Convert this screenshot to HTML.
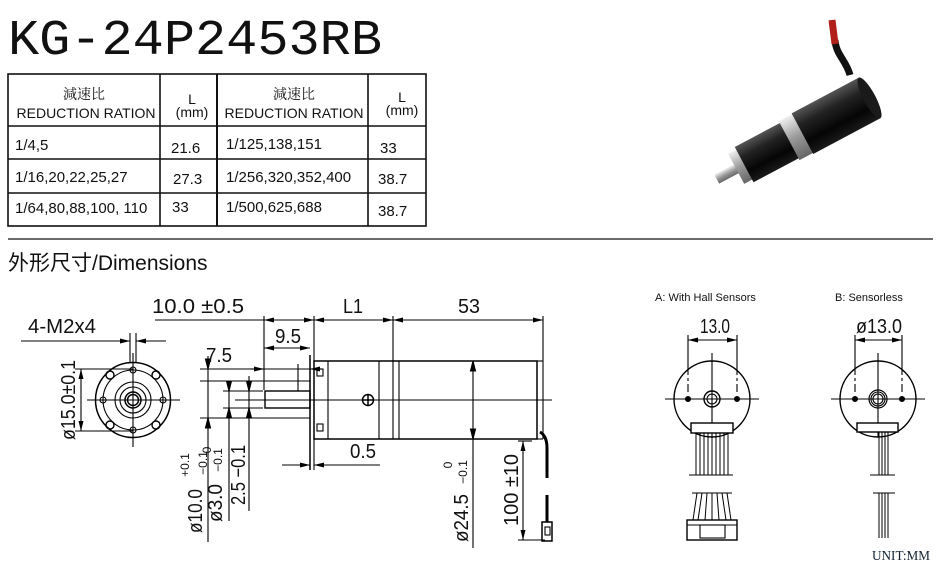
<!DOCTYPE html>
<html><head><meta charset="utf-8"><style>
html,body{margin:0;padding:0;background:#fff;}
svg{display:block;}
.t{font-family:"Liberation Sans","Noto Sans CJK SC",sans-serif;}
.d{font-family:"Liberation Sans",sans-serif;font-size:20px;fill:#111;}
.s{font-family:"Liberation Sans",sans-serif;font-size:12px;fill:#111;}
</style></head><body>
<svg width="945" height="565" viewBox="0 0 945 565" xmlns="http://www.w3.org/2000/svg">
<defs>
<marker id="ar" viewBox="0 0 10 5" refX="10" refY="2.5" markerWidth="11" markerHeight="5" markerUnits="userSpaceOnUse" orient="auto-start-reverse"><path d="M0,0L10,2.5L0,5z" fill="#000"/></marker>
<linearGradient id="cyl" x1="0" y1="0" x2="0" y2="1"><stop offset="0" stop-color="#555"/><stop offset="0.3" stop-color="#222"/><stop offset="0.7" stop-color="#050505"/><stop offset="1" stop-color="#1a1a1a"/></linearGradient>
<linearGradient id="sil" x1="0" y1="0" x2="0" y2="1"><stop offset="0" stop-color="#eee"/><stop offset="0.5" stop-color="#999"/><stop offset="1" stop-color="#666"/></linearGradient>
</defs>

<text x="8" y="54" font-family="Liberation Mono,monospace" font-size="50" textLength="374" lengthAdjust="spacingAndGlyphs" fill="#111">KG-24P2453RB</text>

<g stroke="#111" stroke-width="1.6" fill="none">
<rect x="8" y="74" width="418" height="152"/>
<line x1="160" y1="74" x2="160" y2="226"/>
<line x1="217" y1="74" x2="217" y2="226" stroke-width="2"/>
<line x1="368" y1="74" x2="368" y2="226"/>
<line x1="8" y1="126" x2="426" y2="126"/>
<line x1="8" y1="159" x2="426" y2="159"/>
<line x1="8" y1="193" x2="426" y2="193"/>
<line x1="8" y1="239" x2="933" y2="239" stroke-width="1.2"/>
</g>
<g class="t" fill="#111" font-size="14">
<text x="84" y="99" text-anchor="middle" font-family="Noto Serif CJK SC,serif">減速比</text>
<text x="86" y="118" text-anchor="middle">REDUCTION RATION</text>
<text x="192" y="104" text-anchor="middle">L</text>
<text x="192" y="117" text-anchor="middle">(mm)</text>
<text x="294" y="99" text-anchor="middle" font-family="Noto Serif CJK SC,serif">減速比</text>
<text x="294" y="118" text-anchor="middle">REDUCTION RATION</text>
<text x="402" y="102" text-anchor="middle">L</text>
<text x="402" y="115" text-anchor="middle">(mm)</text>
<g font-size="15">
<text x="15" y="150">1/4,5</text>
<text x="171" y="153">21.6</text>
<text x="226" y="149">1/125,138,151</text>
<text x="380" y="153">33</text>
<text x="15" y="182">1/16,20,22,25,27</text>
<text x="173" y="184">27.3</text>
<text x="226" y="182">1/256,320,352,400</text>
<text x="378" y="184">38.7</text>
<text x="15" y="213">1/64,80,88,100, 110</text>
<text x="172" y="212">33</text>
<text x="226" y="212">1/500,625,688</text>
<text x="378" y="216">38.7</text>
</g>
</g>

<text x="8" y="270" class="t" font-size="21" fill="#111">外形尺寸/Dimensions</text>

<!-- Photo -->
<path d="M850,75 C846,60 836,55 835,40" stroke="#111" stroke-width="7" fill="none"/>
<path d="M835,44 L832,20" stroke="#b02018" stroke-width="7" fill="none"/>
<g transform="translate(798,136) rotate(-28)">
<rect x="-92" y="-5" width="26" height="10" fill="url(#sil)"/>
<rect x="-70" y="-17" width="10" height="34" fill="url(#sil)"/>
<rect x="-61" y="-20" width="52" height="40" fill="url(#cyl)"/>
<rect x="-10" y="-22" width="16" height="44" fill="url(#sil)"/>
<rect x="5" y="-23" width="76" height="46" fill="url(#cyl)"/>
<ellipse cx="81" cy="0" rx="6" ry="23" fill="#1a1a1a"/>
</g>

<g stroke="#000" stroke-width="1.1" fill="none">
<circle cx="133" cy="400" r="37.5" stroke-width="1.5"/>
<circle cx="133" cy="400" r="30"/>
<circle cx="133" cy="400" r="18"/>
<circle cx="133" cy="400" r="13"/>
<circle cx="133" cy="400" r="8" stroke-width="1.5"/>
<circle cx="133" cy="400" r="5.5" stroke-width="1.5"/>
<line x1="87" y1="400" x2="180" y2="400"/>
<line x1="133" y1="353" x2="133" y2="447"/>
<circle cx="133" cy="370" r="3"/><circle cx="133" cy="430" r="3"/>
<circle cx="103" cy="400" r="3"/><circle cx="163" cy="400" r="3"/>
<g stroke-width="1.4">
<circle cx="110" cy="375" r="4"/><circle cx="156" cy="375" r="4"/>
<circle cx="110" cy="425" r="4"/><circle cx="156" cy="425" r="4"/>
</g>
<line x1="130" y1="333" x2="130" y2="362"/><line x1="136" y1="333" x2="136" y2="362"/>
<line x1="21" y1="341" x2="130" y2="341" marker-end="url(#ar)"/>
<line x1="166" y1="341" x2="136" y2="341" marker-end="url(#ar)"/>
<line x1="75" y1="369" x2="133" y2="369"/><line x1="75" y1="431" x2="133" y2="431"/>
<line x1="81" y1="369" x2="81" y2="431" marker-start="url(#ar)" marker-end="url(#ar)"/>

<rect x="314" y="361" width="223" height="78" stroke-width="1.5"/>
<line x1="537" y1="361" x2="543" y2="361"/><line x1="543" y1="361" x2="543" y2="439"/><line x1="537" y1="439" x2="543" y2="439"/>
<line x1="328" y1="361" x2="328" y2="439"/>
<line x1="379" y1="361" x2="379" y2="439"/>
<line x1="393" y1="361" x2="393" y2="439"/>
<line x1="399" y1="361" x2="399" y2="439"/>
<circle cx="368" cy="400" r="5.5" stroke-width="1.5"/>
<line x1="362" y1="400" x2="374" y2="400" stroke-width="1.5"/><line x1="368" y1="394" x2="368" y2="406" stroke-width="1.5"/>
<rect x="317" y="369" width="6" height="7"/><rect x="317" y="424" width="6" height="7"/>
<line x1="235" y1="400" x2="552" y2="400"/>
<line x1="310" y1="355" x2="310" y2="470" stroke-width="1.5"/>
<rect x="265" y="391" width="45" height="17" stroke-width="1.4"/>
<line x1="298" y1="364" x2="298" y2="391"/>
<line x1="200" y1="369" x2="310" y2="369"/>
<line x1="200" y1="381" x2="310" y2="381"/>
<line x1="223" y1="391" x2="263" y2="391"/>
<line x1="223" y1="408" x2="263" y2="408"/>
<line x1="200" y1="418" x2="310" y2="418"/>
<line x1="250" y1="369" x2="264" y2="369" marker-end="url(#ar)"/>
<line x1="322" y1="369" x2="310" y2="369" marker-end="url(#ar)"/>
<line x1="208" y1="356" x2="208" y2="542"/>
<polygon points="208,369 205.5,359 210.5,359" fill="#000"/>
<polygon points="208,418 205.5,428 210.5,428" fill="#000"/>
<line x1="229" y1="381" x2="229" y2="521"/>
<polygon points="229,391 226.5,381 231.5,381" fill="#000"/>
<polygon points="229,408 226.5,418 231.5,418" fill="#000"/>
<line x1="249" y1="376" x2="249" y2="511"/>
<polygon points="249,391 246.5,381 251.5,381" fill="#000"/>
<polygon points="249,408 246.5,418 251.5,418" fill="#000"/>
<line x1="155" y1="320" x2="264" y2="320"/>
<line x1="264" y1="320" x2="314" y2="320" marker-start="url(#ar)" marker-end="url(#ar)"/>
<line x1="314" y1="320" x2="393" y2="320" marker-start="url(#ar)" marker-end="url(#ar)"/>
<line x1="393" y1="320" x2="543" y2="320" marker-start="url(#ar)" marker-end="url(#ar)"/>
<line x1="264" y1="316" x2="264" y2="390"/>
<line x1="314" y1="316" x2="314" y2="361"/>
<line x1="393" y1="316" x2="393" y2="361"/>
<line x1="543" y1="316" x2="543" y2="361"/>
<line x1="264" y1="348" x2="310" y2="348" marker-start="url(#ar)" marker-end="url(#ar)"/>
<line x1="314" y1="439" x2="314" y2="470"/>
<line x1="282" y1="465" x2="310" y2="465" marker-end="url(#ar)"/>
<line x1="380" y1="465" x2="314" y2="465" marker-end="url(#ar)"/>
<line x1="473" y1="361" x2="473" y2="548"/>
<polygon points="473,361 470.5,371 475.5,371" fill="#000"/>
<polygon points="473,439 470.5,429 475.5,429" fill="#000"/>
<line x1="523" y1="441" x2="523" y2="540" marker-start="url(#ar)" marker-end="url(#ar)"/>
<line x1="518" y1="441" x2="532" y2="441"/>
<line x1="518" y1="540" x2="545" y2="540"/>
<path d="M540,432 Q547,436 547,448 L547,478" stroke-width="3"/>
<line x1="547" y1="495" x2="547" y2="522" stroke-width="3"/>
<rect x="542" y="522" width="10" height="19" stroke-width="1.5"/>
<rect x="545" y="527" width="5" height="8"/>

<circle cx="712" cy="399" r="38" stroke-width="1.4"/>
<line x1="665" y1="399" x2="759" y2="399"/>
<line x1="712" y1="353" x2="712" y2="437"/>
<circle cx="712" cy="399" r="8" stroke-width="1.4"/><circle cx="712" cy="399" r="5"/>
<circle cx="688" cy="399" r="2.5" fill="#000"/><circle cx="737" cy="399" r="2.5" fill="#000"/>
<line x1="688" y1="335" x2="688" y2="392" stroke-dasharray="40,3,3,3"/>
<line x1="737" y1="335" x2="737" y2="392" stroke-dasharray="40,3,3,3"/>
<line x1="688" y1="340" x2="737" y2="340" marker-start="url(#ar)" marker-end="url(#ar)"/>
<rect x="691" y="423" width="42" height="10" fill="#fff" stroke-width="1.4"/>
<g stroke-width="1"><line x1="696" y1="433" x2="696" y2="475"/><line x1="700" y1="433" x2="700" y2="475"/><line x1="704" y1="433" x2="704" y2="475"/><line x1="708" y1="433" x2="708" y2="475"/><line x1="712" y1="433" x2="712" y2="475"/><line x1="716" y1="433" x2="716" y2="475"/><line x1="720" y1="433" x2="720" y2="475"/><line x1="724" y1="433" x2="724" y2="475"/><line x1="728" y1="433" x2="728" y2="475"/></g>
<line x1="689" y1="475" x2="733" y2="475"/>
<line x1="692" y1="493" x2="732" y2="493"/>
<g stroke-width="1"><path d="M697,493 L693,520"/><path d="M702,493 L698,520"/><path d="M707,493 L705,520"/><path d="M712,493 L712,520"/><path d="M717,493 L719,520"/><path d="M722,493 L726,520"/><path d="M727,493 L731,520"/></g>
<rect x="687" y="520" width="50" height="20" stroke-width="1.4" fill="#fff"/>
<rect x="700" y="525" width="25" height="13"/>
<line x1="687" y1="525" x2="737" y2="525"/>

<circle cx="878" cy="399" r="38" stroke-width="1.4"/>
<line x1="831" y1="399" x2="925" y2="399"/>
<line x1="878" y1="353" x2="878" y2="437"/>
<circle cx="878" cy="399" r="9" stroke-width="1.2"/><circle cx="878" cy="399" r="7"/><circle cx="878" cy="399" r="5"/>
<circle cx="855" cy="399" r="2.5" fill="#000"/><circle cx="902" cy="399" r="2.5" fill="#000"/>
<line x1="855" y1="335" x2="855" y2="392" stroke-dasharray="40,3,3,3"/>
<line x1="902" y1="335" x2="902" y2="392" stroke-dasharray="40,3,3,3"/>
<line x1="855" y1="340" x2="902" y2="340" marker-start="url(#ar)" marker-end="url(#ar)"/>
<rect x="857" y="423" width="41" height="9" fill="#fff" stroke-width="1.4"/>
<g stroke-width="1"><line x1="879" y1="432" x2="879" y2="475"/><line x1="882" y1="432" x2="882" y2="475"/><line x1="885" y1="432" x2="885" y2="475"/><line x1="888" y1="432" x2="888" y2="475"/></g>
<line x1="870" y1="475" x2="895" y2="475"/>
<line x1="873" y1="493" x2="895" y2="493"/>
<g stroke-width="1"><line x1="879" y1="493" x2="879" y2="538"/><line x1="882" y1="493" x2="882" y2="538"/><line x1="885" y1="493" x2="885" y2="538"/><line x1="888" y1="493" x2="888" y2="538"/></g>
</g>

<g class="d">
<text x="28" y="333" textLength="68" lengthAdjust="spacingAndGlyphs">4-M2x4</text>
<text x="152" y="313" textLength="92" lengthAdjust="spacingAndGlyphs">10.0  ±0.5</text>
<text x="343" y="313" textLength="20" lengthAdjust="spacingAndGlyphs">L1</text>
<text x="458" y="313" textLength="22" lengthAdjust="spacingAndGlyphs">53</text>
<text x="275" y="343" textLength="26" lengthAdjust="spacingAndGlyphs">9.5</text>
<text x="206" y="362" textLength="26" lengthAdjust="spacingAndGlyphs">7.5</text>
<text x="350" y="458" textLength="26" lengthAdjust="spacingAndGlyphs">0.5</text>
<text x="700" y="333" textLength="30" lengthAdjust="spacingAndGlyphs">13.0</text>
<text x="856" y="333" textLength="46" lengthAdjust="spacingAndGlyphs">ø13.0</text>
<text transform="translate(75,400) rotate(-90)" text-anchor="middle" textLength="80" lengthAdjust="spacingAndGlyphs">ø15.0±0.1</text>
<text transform="translate(202,511) rotate(-90)" text-anchor="middle" textLength="44" lengthAdjust="spacingAndGlyphs">ø10.0</text>
<text transform="translate(222,503) rotate(-90)" text-anchor="middle" textLength="38" lengthAdjust="spacingAndGlyphs">ø3.0</text>
<text transform="translate(245,475) rotate(-90)" text-anchor="middle" textLength="60" lengthAdjust="spacingAndGlyphs">2.5 −0.1</text>
<text transform="translate(468,518) rotate(-90)" text-anchor="middle" textLength="48" lengthAdjust="spacingAndGlyphs">ø24.5</text>
<text transform="translate(518,490) rotate(-90)" text-anchor="middle" textLength="72" lengthAdjust="spacingAndGlyphs">100 ±10</text>
</g>
<g class="s">
<text transform="translate(189,465) rotate(-90)" text-anchor="middle">+0.1</text>
<text transform="translate(207,463) rotate(-90)" text-anchor="middle">−0.1</text>
<text transform="translate(211,450) rotate(-90)" text-anchor="middle">0</text>
<text transform="translate(222,460) rotate(-90)" text-anchor="middle">−0.1</text>
<text transform="translate(452,465) rotate(-90)" text-anchor="middle">0</text>
<text transform="translate(467,472) rotate(-90)" text-anchor="middle">−0.1</text>
<text x="655" y="301" font-size="11">A:  With Hall Sensors</text>
<text x="835" y="301" font-size="11">B:  Sensorless</text>
</g>
<text x="872" y="560" font-family="Liberation Serif,serif" font-size="14" fill="#123" textLength="58" lengthAdjust="spacingAndGlyphs">UNIT:MM</text>
</svg>
</body></html>
